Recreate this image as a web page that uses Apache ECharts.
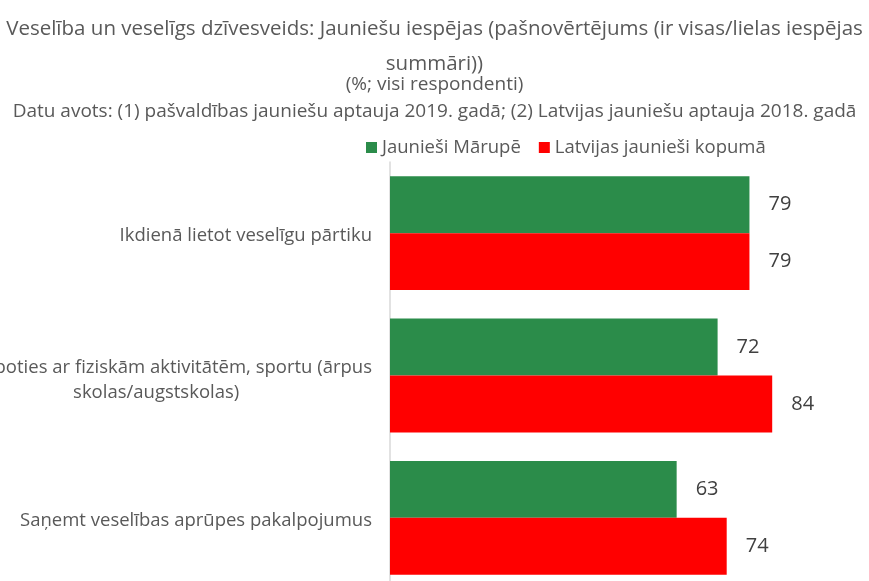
<!DOCTYPE html>
<html>
<head>
<meta charset="utf-8">
<script src="https://cdn.jsdelivr.net/npm/echarts@6/dist/echarts.min.js"></script>
<style>
html,body{margin:0;padding:0;background:#fff;}
#chart{width:869px;height:581px;}
</style>
</head>
<body>
<div id="chart"></div>
<script>
const categories = [
  "Ikdienā lietot veselīgu pārtiku",
  "Nodarboties ar fiziskām aktivitātēm, sportu (ārpus\nskolas/augstskolas)",
  "Saņemt veselības aprūpes pakalpojumus"
];
const seriesNames = ["Jaunieši Mārupē", "Latvijas jaunieši kopumā"];
const marupe = [79, 72, 63];
const latvija = [79, 84, 74];

const FONT = "Open Sans";
const TXT = "#595959";

const chart = echarts.init(document.getElementById('chart'), null, {renderer: 'canvas'});
chart.setOption({
  animation: false,
  backgroundColor: '#ffffff',
  textStyle: {fontFamily: FONT},
  title: [
    {text: "Veselība un veselīgs dzīvesveids: Jauniešu iespējas (pašnovērtējums (ir visas/lielas iespējas",
     left: 'center', top: 14, textStyle: {fontFamily: FONT, fontSize: 20.5, fontWeight: 'normal', color: TXT}},
    {text: "summāri))", left: 'center', top: 49, textStyle: {fontFamily: FONT, fontSize: 20.5, fontWeight: 'normal', color: TXT}},
    {text: "(%; visi respondenti)", left: 'center', top: 70, textStyle: {fontFamily: FONT, fontSize: 19, fontWeight: 'normal', color: TXT}},
    {text: "Datu avots: (1) pašvaldības jauniešu aptauja 2019. gadā; (2) Latvijas jauniešu aptauja 2018. gadā",
     left: 'center', top: 97, textStyle: {fontFamily: FONT, fontSize: 19, fontWeight: 'normal', color: TXT}}
  ],
  legend: {
    data: seriesNames,
    left: 361, top: 133,
    itemWidth: 11, itemHeight: 11, itemGap: 18,
    icon: 'rect',
    textStyle: {fontFamily: FONT, fontSize: 18.5, color: TXT}
  },
  grid: {left: 390, right: 24, top: 162, bottom: -8, containLabel: false, outerBoundsMode: 'none'},
  xAxis: {
    type: 'value', min: 0, max: 100,
    show: false
  },
  yAxis: {
    type: 'category', data: categories, inverse: true,
    axisLine: {show: true, lineStyle: {color: '#D9D9D9', width: 1.5}},
    axisTick: {show: false},
    axisLabel: {
      margin: 18,
      formatter: function (v) {
        const lines = v.split('\n');
        const pre = lines.length > 1 ? '{s2| }\n' : '{s1| }\n';
        return pre + lines.map(function (l) { return '{c|' + l + '}'; }).join('\n');
      },
      rich: {
        c: {align: 'center', fontFamily: FONT, fontSize: 18.5, color: TXT, lineHeight: 25},
        s1: {fontSize: 4, lineHeight: 5},
        s2: {fontSize: 4, lineHeight: 9}
      }
    }
  },
  series: [
    {name: seriesNames[0], type: 'bar', data: marupe, barGap: '0%', barCategoryGap: '20%',
     itemStyle: {color: '#2B8C4A'},
     label: {show: true, position: 'right', distance: 19, fontFamily: FONT, fontSize: 20, color: '#404040'}},
    {name: seriesNames[1], type: 'bar', data: latvija, barGap: '0%', barCategoryGap: '20%',
     itemStyle: {color: '#FF0000'},
     label: {show: true, position: 'right', distance: 19, fontFamily: FONT, fontSize: 20, color: '#404040'}}
  ]
});
</script>
</body>
</html>
